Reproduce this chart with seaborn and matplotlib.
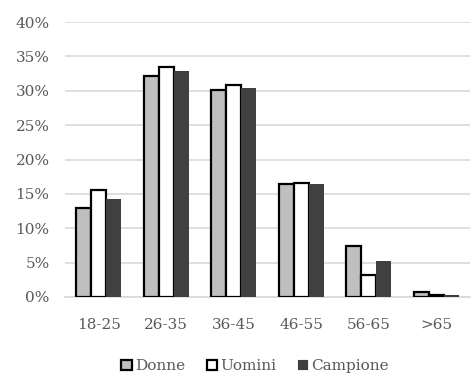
import matplotlib
matplotlib.use("Agg")
import matplotlib.pyplot as plt
import seaborn as sns
import pandas as pd

categories = ["18-25", "26-35", "36-45", "46-55", "56-65", ">65"]
donne = [12.9, 32.1, 30.1, 16.5, 7.4, 0.7]
uomini = [15.5, 33.5, 30.9, 16.6, 3.2, 0.3]
campione = [14.2, 32.9, 30.4, 16.5, 5.2, 0.3]
series = ["Donne", "Uomini", "Campione"]
yticks = [0, 5, 10, 15, 20, 25, 30, 35, 40]

rows = []
for name, vals in zip(series, [donne, uomini, campione]):
    for c, v in zip(categories, vals):
        rows.append({"Età": c, "Valore": v, "Serie": name})
df = pd.DataFrame(rows)

sns.set_style("white")
plt.rcParams["font.family"] = ["DejaVu Serif"]
text_color = "#595959"

fig = plt.figure(figsize=(4.77, 3.74), dpi=100)
ax = fig.add_axes([0.136, 0.206, 0.849, 0.735])

palette = {"Donne": "#bfbfbf", "Uomini": "#ffffff", "Campione": "#404040"}
sns.barplot(data=df, x="Età", y="Valore", hue="Serie", hue_order=series,
            order=categories, palette=palette, ax=ax, width=0.667,
            saturation=1, legend=False, zorder=3)

edges = {"Donne": ("black", 1.6), "Uomini": ("black", 1.6), "Campione": ("#404040", 0.0)}
for cont, name in zip(ax.containers, series):
    ec, lw = edges[name]
    for p in cont.patches:
        p.set_edgecolor(ec)
        p.set_linewidth(lw)

ax.set_ylim(0, 40)
ax.set_xlim(-0.5, len(categories) - 0.5)
ax.set_yticks(yticks)
ax.set_yticklabels([f"{t}%" for t in yticks])
ax.yaxis.grid(True, color="#d9d9d9", linewidth=1.2, zorder=0)
ax.set_axisbelow(True)
for s in ["top", "right", "left"]:
    ax.spines[s].set_visible(False)
ax.spines["bottom"].set_color("#d9d9d9")
ax.spines["bottom"].set_linewidth(1.2)
ax.tick_params(axis="both", length=0, labelsize=11, colors=text_color)
ax.tick_params(axis="x", pad=15)
ax.tick_params(axis="y", pad=11)
ax.set_xlabel("")
ax.set_ylabel("")

handles = [plt.Rectangle((0, 0), 1, 1, facecolor=palette[n],
                         edgecolor=edges[n][0], linewidth=max(edges[n][1], 0.1))
           for n in series]
leg = fig.legend(handles, series, loc="lower center", bbox_to_anchor=(0.535, -0.035),
                 ncol=3, frameon=False, fontsize=11, handlelength=0.7,
                 handleheight=0.7, handletextpad=0.2, columnspacing=1.4)
for t in leg.get_texts():
    t.set_color(text_color)

fig.savefig("out.png", dpi=100)
